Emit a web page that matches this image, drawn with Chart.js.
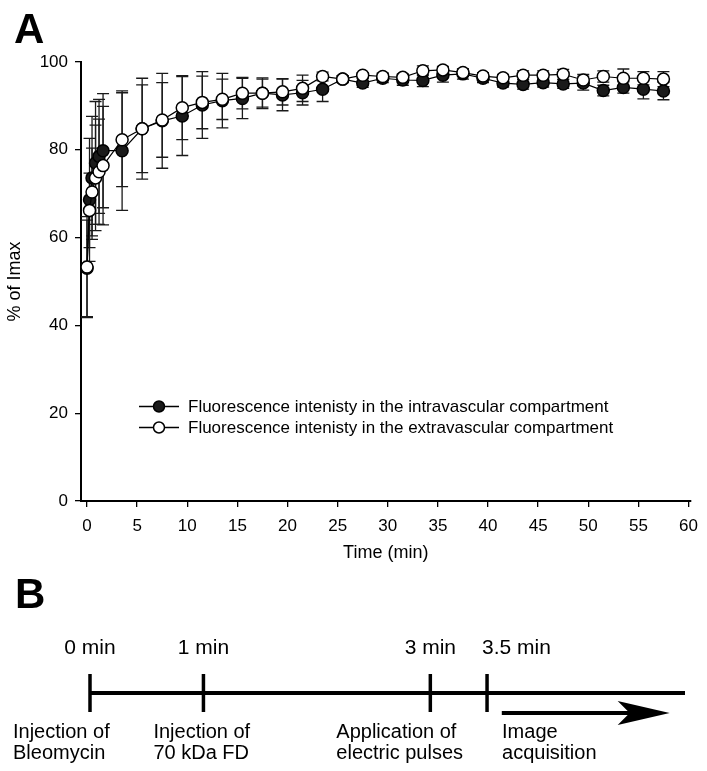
<!DOCTYPE html>
<html>
<head>
<meta charset="utf-8">
<script src="https://cdn.jsdelivr.net/npm/chart.js@4.4.1/dist/chart.umd.min.js"></script>
<style>
  html, body { margin: 0; padding: 0; background: #fff; }
  canvas { display: block; }
</style>
</head>
<body>
<canvas id="panelA" width="707" height="565"></canvas>
<canvas id="panelB" width="707" height="206"></canvas>
<script>
// ---- Panel A data ----
const times = [0, 0.25, 0.5, 0.85, 1.2, 1.6, 3.5, 5.5, 7.5, 9.5, 11.5, 13.5, 15.5, 17.5, 19.5, 21.5, 23.5,
  25.5, 27.5, 29.5, 31.5, 33.5, 35.5, 37.5, 39.5, 41.5, 43.5, 45.5, 47.5, 49.5, 51.5, 53.5, 55.5, 57.5];

const intraMean = [53, 68.6, 73.6, 77.0, 78.5, 79.8, 79.8, 84.8, 86.6, 87.7, 90.2, 91.2, 91.7, 92.9, 92.5, 93.0, 93.8,
  96.1, 95.2, 96.3, 95.9, 95.8, 97.0, 97.3, 96.3, 95.2, 94.9, 95.3, 95.0, 95.2, 93.5, 94.2, 93.8, 93.4];
const intraSd = [11, 14, 14, 14, 13, 13, 13.6, 11.5, 10.8, 9, 7.6, 6.2, 4.6, 3.5, 3.6, 2.8, 2.8,
  0.8, 1.0, 1.0, 1.2, 1.4, 1.6, 1.2, 1.0, 0.9, 1.1, 1.0, 1.0, 1.6, 1.2, 1.3, 2.2, 2.0];

const extraMean = [53.3, 66.2, 70.4, 73.6, 75.0, 76.4, 82.3, 84.8, 86.8, 89.6, 90.8, 91.5, 92.9, 92.9, 93.2, 94.0, 96.7,
  96.1, 97.0, 96.7, 96.5, 98.0, 98.2, 97.6, 96.8, 96.4, 97.0, 97.0, 97.2, 95.9, 96.7, 96.3, 96.3, 96.1];
const extraSd = [11.5, 8.5, 10, 12, 12, 13.5, 10.7, 10, 8.5, 7.3, 6, 4.6, 3.6, 3.2, 3.0, 3.0, 1.0,
  0.8, 0.6, 0.8, 0.8, 1.1, 0.8, 0.8, 0.8, 0.8, 1.0, 1.0, 1.1, 1.3, 1.3, 2.1, 1.5, 1.7];

const xTicks = [0, 5, 10, 15, 20, 25, 30, 35, 40, 45, 50, 55, 60];
const yTicks = [0, 20, 40, 60, 80, 100];

const intraLabel = 'Fluorescence intenisty in the intravascular compartment';
const extraLabel = 'Fluorescence intenisty in the extravascular compartment';

// ---- Panel B data ----
const stepTimes = [0, 1, 3, 3.5];
const stepTopLabels = ['0 min', '1 min', '3 min', '3.5 min'];
const stepBottomLabels = [
  ['Injection of', 'Bleomycin'],
  ['Injection of', '70 kDa FD'],
  ['Application of', 'electric pulses'],
  ['Image', 'acquisition']
];
const timelineEnd = 5.245;
const arrowStart = 3.63;
const arrowEnd = 5.11;

const FONT = '"Liberation Sans", Arial, sans-serif';
Chart.defaults.font.family = FONT;
Chart.defaults.color = '#000';

const toPoints = (means) => times.map((t, i) => ({ x: t, y: means[i] }));

// 오차 막대: 마커 아래에 먼저 그림
const errorBars = {
  id: 'errorBars',
  beforeDatasetsDraw(chart) {
    const { ctx, scales: { x, y } } = chart;
    ctx.save();
    ctx.strokeStyle = '#1a1a1a';
    ctx.lineWidth = 1.3;
    chart.data.datasets.forEach(ds => {
      ds.data.forEach((p, i) => {
        const e = ds.errors[i];
        const px = x.getPixelForValue(p.x);
        const top = y.getPixelForValue(p.y + e);
        const bot = y.getPixelForValue(p.y - e);
        const cw = 6;
        ctx.beginPath();
        ctx.moveTo(px, top); ctx.lineTo(px, bot);
        ctx.moveTo(px - cw, top); ctx.lineTo(px + cw, top);
        ctx.moveTo(px - cw, bot); ctx.lineTo(px + cw, bot);
        ctx.stroke();
      });
    });
    ctx.restore();
  }
};

// 범례 + 패널 문자 "A"
const panelDecor = {
  id: 'panelDecor',
  afterDraw(chart) {
    const { ctx, chartArea } = chart;
    ctx.save();
    ctx.font = 'bold 42px ' + FONT;
    ctx.fillStyle = '#000';
    ctx.textBaseline = 'alphabetic';
    ctx.fillText('A', 14, 43);

    const rows = [
      { label: intraLabel, fill: '#1a1a1a', y: 406.5 },
      { label: extraLabel, fill: '#fff', y: 427.5 }
    ];
    const lx = chartArea.left + 58;
    rows.forEach(r => {
      ctx.strokeStyle = '#000';
      ctx.lineWidth = 1.3;
      ctx.beginPath();
      ctx.moveTo(lx, r.y); ctx.lineTo(lx + 40, r.y);
      ctx.stroke();
      ctx.beginPath();
      ctx.arc(lx + 20, r.y, 5.5, 0, Math.PI * 2);
      ctx.fillStyle = r.fill;
      ctx.fill();
      ctx.lineWidth = 1.5;
      ctx.stroke();
      ctx.fillStyle = '#000';
      ctx.font = '17px ' + FONT;
      ctx.textBaseline = 'middle';
      ctx.fillText(r.label, lx + 49, r.y + 1);
    });
    ctx.restore();
  }
};

new Chart(document.getElementById('panelA'), {
  type: 'scatter',
  data: {
    datasets: [
      {
        label: extraLabel,
        data: toPoints(extraMean),
        errors: extraSd,
        showLine: true,
        borderColor: '#000',
        borderWidth: 1.2,
        pointBackgroundColor: '#fff',
        pointBorderColor: '#000',
        pointBorderWidth: 1.5,
        pointRadius: 6,
        order: 0
      },
      {
        label: intraLabel,
        data: toPoints(intraMean),
        errors: intraSd,
        showLine: true,
        borderColor: '#000',
        borderWidth: 1.2,
        pointBackgroundColor: '#1a1a1a',
        pointBorderColor: '#000',
        pointBorderWidth: 1.5,
        pointRadius: 6,
        order: 1
      }
    ]
  },
  options: {
    responsive: false,
    animation: false,
    clip: false,
    layout: { padding: { top: 62, right: 12, bottom: 0, left: 0 } },
    plugins: { legend: { display: false }, tooltip: { enabled: false } },
    scales: {
      x: {
        type: 'linear',
        min: -0.6,
        max: 60.2,
        afterBuildTicks: (s) => { s.ticks = xTicks.map(v => ({ value: v })); },
        afterFit: (s) => { s.height = 64; },
        grid: { drawOnChartArea: false, drawTicks: true, tickLength: 6, color: '#000', lineWidth: 1.3 },
        border: { display: true, color: '#000', width: 2 },
        ticks: { font: { size: 17 }, padding: 9, maxRotation: 0, autoSkip: false },
        title: { display: true, text: 'Time (min)', font: { size: 18 }, padding: { top: 0, bottom: 1 } }
      },
      y: {
        min: 0,
        max: 100,
        afterBuildTicks: (s) => { s.ticks = yTicks.map(v => ({ value: v })); },
        afterFit: (s) => { s.width = 81; },
        grid: { drawOnChartArea: false, drawTicks: true, tickLength: 6, color: '#000', lineWidth: 1.3 },
        border: { display: true, color: '#000', width: 2 },
        ticks: { font: { size: 17 }, padding: 7 },
        title: { display: true, text: '% of Imax', font: { size: 18 }, padding: { top: 4, bottom: 0 } }
      }
    }
  },
  plugins: [errorBars, panelDecor]
});

// ---- Panel B: timeline ----
const timelineDecor = {
  id: 'timelineDecor',
  afterDatasetsDraw(chart) {
    const { ctx, scales: { x, y } } = chart;
    ctx.save();
    ctx.fillStyle = '#000';
    ctx.strokeStyle = '#000';

    ctx.font = 'bold 42px ' + FONT;
    ctx.textBaseline = 'alphabetic';
    ctx.fillText('B', 15, 43);

    // 눈금선
    ctx.lineWidth = 3.5;
    stepTimes.forEach(t => {
      const px = x.getPixelForValue(t);
      ctx.beginPath();
      ctx.moveTo(px, y.getPixelForValue(0.95));
      ctx.lineTo(px, y.getPixelForValue(-0.95));
      ctx.stroke();
    });

    // 화살표 머리
    const ay = y.getPixelForValue(-1);
    const tip = x.getPixelForValue(arrowEnd);
    ctx.beginPath();
    ctx.moveTo(tip, ay);
    ctx.lineTo(tip - 52, ay - 12);
    ctx.lineTo(tip - 40, ay);
    ctx.lineTo(tip - 52, ay + 12);
    ctx.closePath();
    ctx.fill();

    // 라벨
    ctx.font = '21px ' + FONT;
    ctx.textBaseline = 'middle';
    stepTimes.forEach((t, i) => {
      const px = x.getPixelForValue(t);
      if (i === stepTimes.length - 1) {
        ctx.textAlign = 'left';
        ctx.fillText(stepTopLabels[i], px - 5, 83);
      } else {
        ctx.textAlign = 'center';
        ctx.fillText(stepTopLabels[i], px, 83);
      }
    });
    ctx.font = '20px ' + FONT;
    ctx.textAlign = 'left';
    const botShift = [-77, -50, -94, 15];
    stepTimes.forEach((t, i) => {
      const px = x.getPixelForValue(t);
      stepBottomLabels[i].forEach((line, j) => {
        ctx.fillText(line, px + botShift[i], 167 + j * 21.5);
      });
    });
    ctx.restore();
  }
};

new Chart(document.getElementById('panelB'), {
  type: 'scatter',
  data: {
    datasets: [
      {
        data: [{ x: 0, y: 0 }, { x: timelineEnd, y: 0 }],
        showLine: true,
        borderColor: '#000',
        borderWidth: 4,
        pointRadius: 0
      },
      {
        data: [{ x: arrowStart, y: -1 }, { x: arrowEnd - 0.3, y: -1 }],
        showLine: true,
        borderColor: '#000',
        borderWidth: 4,
        pointRadius: 0
      }
    ]
  },
  options: {
    responsive: false,
    animation: false,
    clip: false,
    layout: { padding: { top: 98, bottom: 48, left: 90, right: 22 } },
    plugins: { legend: { display: false }, tooltip: { enabled: false } },
    scales: {
      x: { type: 'linear', min: 0, max: timelineEnd, display: false },
      y: { min: -1.5, max: 1.5, display: false }
    }
  },
  plugins: [timelineDecor]
});
</script>
</body>
</html>
